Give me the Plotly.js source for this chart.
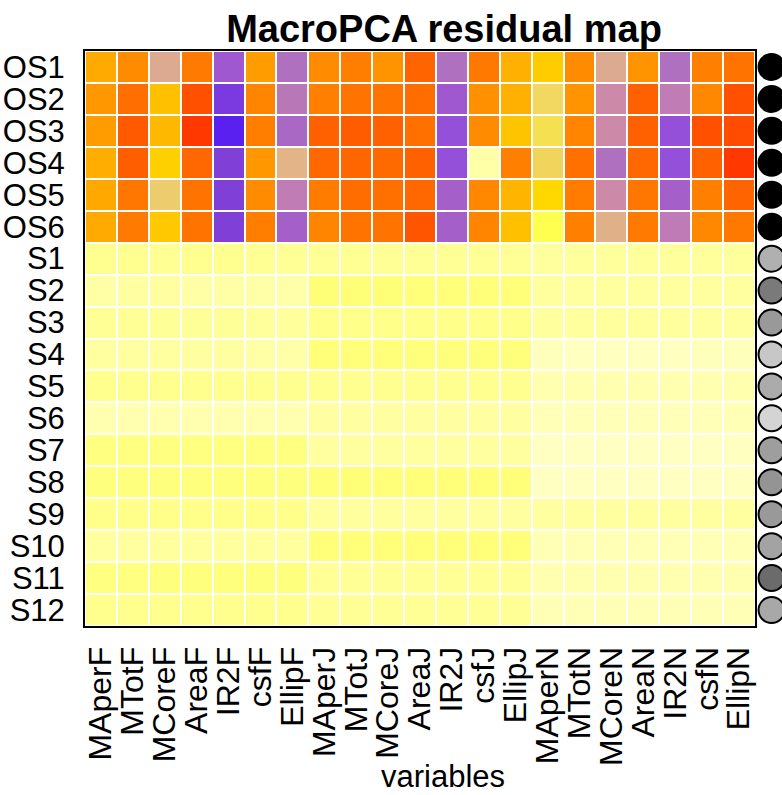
<!DOCTYPE html>
<html>
<head>
<meta charset="utf-8">
<script src="https://cdn.plot.ly/plotly-3.0.1.min.js"></script>
<style>
  html, body { margin: 0; padding: 0; background: #ffffff; }
  #chart { width: 782px; height: 795px; }
</style>
</head>
<body>
<div id="chart"></div>
<script>
// ---- data ----
const variables = ["MAperF","MTotF","MCoreF","AreaF","IR2F","csfF","EllipF",
                   "MAperJ","MTotJ","MCoreJ","AreaJ","IR2J","csfJ","EllipJ",
                   "MAperN","MTotN","MCoreN","AreaN","IR2N","csfN","EllipN"];
const cases = ["OS1","OS2","OS3","OS4","OS5","OS6",
               "S1","S2","S3","S4","S5","S6","S7","S8","S9","S10","S11","S12"];

// standardized residuals
const resOS1 = [1.88, 2.38, -1.0, 2.69, -3.0, 2.11, -2.4, 2.38, 2.62, 2.25, 3.06, -2.4, 2.72, 1.78, 1.30, 2.38, -1.0, 2.25, -2.4, 2.58, 2.79];
const resOS2 = [2.18, 2.89, 1.50, 3.40, -4.0, 2.52, -2.1, 2.58, 2.79, 2.79, 2.92, -3.0, 2.31, 1.78, -0.3, 2.25, -1.6, 3.13, -1.9, 2.45, 3.40];
const resOS3 = [2.11, 3.23, 1.64, 3.80, -4.9, 2.62, -2.55, 3.13, 3.19, 3.13, 2.85, -3.3, 2.38, 1.44, -0.15, 2.52, -1.6, 3.13, -3.3, 3.40, 3.46];
const resOS4 = [1.81, 3.16, 1.23, 2.99, -3.6, 2.18, -0.8, 2.99, 3.02, 2.96, 3.13, -3.3, 0.22, 2.58, -0.35, 2.85, -2.4, 2.99, -3.3, 3.13, 3.80];
const resOS5 = [1.91, 2.75, -0.5, 2.79, -3.6, 2.38, -1.9, 2.65, 2.92, 2.85, 2.99, -2.7, 2.45, 1.71, 1.10, 2.65, -1.6, 2.75, -2.7, 2.58, 3.06];
const resOS6 = [1.88, 2.69, 1.37, 2.79, -3.6, 2.62, -2.7, 2.52, 2.79, 2.79, 3.33, -2.7, 2.52, 1.50, 0.90, 2.58, -0.85, 2.69, -1.95, 2.45, 2.72];
const resS1  = [0.40,0.40,0.38,0.40,0.40,0.38,0.36, 0.36,0.38,0.36,0.36,0.36,0.36,0.36, 0.30,0.32,0.32,0.32,0.32,0.32,0.32];
const resS2  = [0.24,0.26,0.26,0.24,0.24,0.22,0.20, 0.60,0.60,0.60,0.58,0.58,0.58,0.58, 0.30,0.28,0.28,0.28,0.28,0.28,0.28];
const resS3  = [0.36,0.36,0.34,0.34,0.34,0.32,0.32, 0.46,0.46,0.46,0.46,0.46,0.46,0.46, 0.30,0.30,0.30,0.30,0.30,0.28,0.28];
const resS4  = [0.28,0.28,0.28,0.26,0.26,0.24,0.22, 0.58,0.58,0.58,0.56,0.56,0.56,0.56, 0.06,0.04,0.04,0.04,0.04,0.06,0.06];
const resS5  = [0.42,0.42,0.42,0.42,0.40,0.40,0.40, 0.40,0.40,0.40,0.40,0.40,0.40,0.40, 0.16,0.16,0.16,0.16,0.16,0.16,0.18];
const resS6  = [0.16,0.16,0.16,0.16,0.16,0.16,0.16, 0.26,0.26,0.26,0.26,0.26,0.26,0.26, 0.10,0.10,0.10,0.10,0.10,0.10,0.12];
const resS7  = [0.53,0.53,0.53,0.53,0.53,0.53,0.53, 0.28,0.28,0.28,0.28,0.28,0.28,0.28, 0.02,0.02,0.02,0.02,0.02,0.02,0.04];
const resS8  = [0.54,0.54,0.54,0.54,0.54,0.54,0.54, 0.58,0.60,0.58,0.58,0.58,0.58,0.58, 0.02,0.02,0.02,0.02,0.02,0.02,0.04];
const resS9  = [0.46,0.46,0.46,0.46,0.46,0.46,0.46, 0.30,0.30,0.30,0.28,0.28,0.28,0.28, 0.28,0.28,0.28,0.28,0.28,0.28,0.28];
const resS10 = [0.28,0.28,0.30,0.30,0.30,0.30,0.30, 0.58,0.58,0.58,0.58,0.58,0.58,0.58, 0.12,0.12,0.12,0.12,0.12,0.12,0.12];
const resS11 = [0.53,0.53,0.54,0.54,0.54,0.54,0.54, 0.36,0.36,0.36,0.36,0.36,0.36,0.36, 0.16,0.16,0.16,0.16,0.16,0.16,0.16];
const resS12 = [0.42,0.42,0.42,0.42,0.42,0.42,0.42, 0.36,0.36,0.36,0.36,0.36,0.36,0.36, 0.12,0.12,0.12,0.12,0.12,0.12,0.12];

// row outlyingness indicator (0 = white, 1 = black)
const rowOutlyingness = [1,1,1,1,1,1, 0.31,0.52,0.40,0.22,0.33,0.17,0.38,0.42,0.40,0.36,0.58,0.34];

const residuals = [resOS1,resOS2,resOS3,resOS4,resOS5,resOS6,
                   resS1,resS2,resS3,resS4,resS5,resS6,resS7,resS8,resS9,resS10,resS11,resS12];

// ---- colour scale (style) ----
const ZMIN = -5, ZMAX = 5;
const stops = [
  [-5.0,"#5020f0"],[-4.9,"#5a20f0"],[-4.0,"#7a3ae0"],[-3.6,"#8040d8"],[-3.3,"#9450d8"],
  [-3.0,"#a058d0"],[-2.7,"#a460c8"],[-2.55,"#a868c4"],[-2.4,"#b070c0"],[-2.1,"#b878b8"],
  [-1.9,"#c07cb4"],[-1.6,"#cc8aa8"],[-1.0,"#dcaa90"],[-0.85,"#e0b088"],[-0.8,"#e2b488"],
  [-0.5,"#eccc6c"],[-0.35,"#f0d45c"],[-0.3,"#f2d860"],[-0.15,"#f4e050"],[0.0,"#ffffc4"],
  [0.9,"#ffff50"],[1.1,"#ffd800"],[3.8,"#ff3800"],[5.0,"#ff1000"]
];
const colorscale = stops.map(s => [(s[0]-ZMIN)/(ZMAX-ZMIN), s[1]]);

const FONT = "Liberation Sans, Arial, Helvetica, sans-serif";
const W = 782, H = 795;
const L = 85, R = 755, T = 51, B = 626;
const plotW = W - L;

const heat = {
  type: "heatmap",
  x: variables,
  y: cases,
  z: residuals,
  zmin: ZMIN, zmax: ZMAX,
  colorscale: colorscale,
  showscale: false,
  xgap: 2, ygap: 2,
  hoverinfo: "x+y+z",
  xaxis: "x", yaxis: "y"
};

const circles = {
  type: "scatter",
  mode: "markers",
  x: cases.map(() => 0),
  y: cases,
  marker: {
    color: rowOutlyingness,
    colorscale: [[0,"#ffffff"],[1,"#000000"]],
    cmin: 0, cmax: 1,
    size: 26,
    line: { color: "#000000", width: 2 }
  },
  cliponaxis: false,
  hoverinfo: "y",
  xaxis: "x2", yaxis: "y"
};

const layout = {
  width: W, height: H,
  margin: { l: L, r: 0, t: T, b: H - B, pad: 0 },
  paper_bgcolor: "#ffffff",
  plot_bgcolor: "#ffffff",
  showlegend: false,
  font: { family: FONT, color: "#000000", size: 30 },
  title: {
    text: "<b>MacroPCA residual map</b>",
    font: { family: FONT, size: 38, color: "#000000" },
    x: (444 - L) / plotW, xref: "paper", xanchor: "center",
    y: 1 - 29 / H, yref: "container", yanchor: "middle"
  },
  xaxis: {
    domain: [0, (R - L) / plotW],
    type: "category",
    categoryorder: "array", categoryarray: variables,
    range: [-0.5, variables.length - 0.5],
    tickmode: "array", tickvals: variables, ticktext: variables,
    tickangle: -90,
    tickfont: { family: FONT, size: 32, color: "#000000" },
    ticks: "", ticklabelstandoff: 6,
    showgrid: false, zeroline: false,
    showline: true, mirror: true, linecolor: "#000000", linewidth: 2,
    fixedrange: true
  },
  xaxis2: {
    domain: [0.97, 1],
    range: [-1, 1],
    visible: false,
    fixedrange: true
  },
  yaxis: {
    type: "category",
    categoryorder: "array", categoryarray: cases,
    range: [cases.length - 0.5, -0.5],
    tickmode: "array", tickvals: cases, ticktext: cases,
    tickfont: { family: FONT, size: 31, color: "#000000" },
    ticks: "", ticklabelstandoff: 12,
    showgrid: false, zeroline: false,
    showline: true, mirror: true, linecolor: "#000000", linewidth: 2,
    fixedrange: true
  },
  annotations: [{
    text: "variables",
    xref: "paper", yref: "paper",
    x: (443 - L) / plotW, y: -(776 - B) / (B - T),
    xanchor: "center", yanchor: "middle",
    showarrow: false,
    font: { family: FONT, size: 31, color: "#000000" }
  }]
};

Plotly.newPlot("chart", [heat, circles], layout, { displayModeBar: false, staticPlot: true });
</script>
</body>
</html>
